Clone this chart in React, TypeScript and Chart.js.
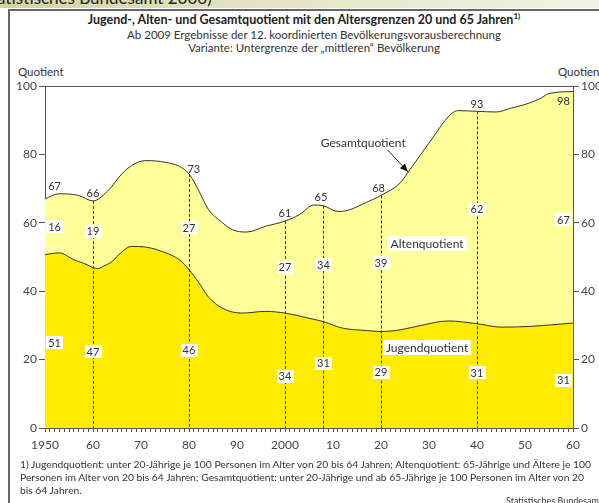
import React, { useEffect, useRef } from "react";
import { Chart, registerables } from "chart.js";
Chart.register(...registerables);

const FONT = 'Lato, "Open Sans", sans-serif';

// Gesamtquotient (upper curve)
const gesamtYears = [1950, 1953, 1957, 1960, 1963, 1966, 1968, 1971, 1975, 1978, 1980, 1982, 1984, 1987, 1989, 1992, 1996, 2000, 2003, 2006, 2008, 2011, 2013, 2017, 2020, 2024, 2026, 2031, 2034, 2036, 2040, 2044, 2047, 2050, 2053, 2055, 2060];
const gesamtValues = [67, 68.5, 68, 66.4, 69.2, 74.3, 76.7, 78.2, 77.7, 76.5, 74.3, 69.5, 64, 60, 58, 57.3, 59, 60.5, 62.4, 65.2, 65, 63.3, 63.6, 66, 68, 71.7, 75.5, 85.3, 91, 92.8, 92.6, 92.4, 93.5, 94.6, 96.2, 97.8, 98.4];

// Jugendquotient (lower curve)
const jugendYears = [1950, 1953, 1956, 1958, 1961, 1962, 1964, 1966, 1968, 1971, 1975, 1978, 1980, 1982, 1984, 1987, 1991, 1996, 2000, 2005, 2008, 2012, 2017, 2020, 2024, 2028, 2034, 2040, 2045, 2051, 2060];
const jugendValues = [50.7, 51.2, 49.2, 48.2, 46.6, 47.2, 48.7, 51.5, 53.1, 52.9, 51.3, 49.2, 46.3, 42.6, 38.4, 35, 33.6, 34.1, 33.6, 32.1, 31.1, 29.2, 28.5, 28.2, 28.7, 29.9, 31.3, 30.5, 29.5, 29.7, 30.7];

const tickLabels = ["1950", "60", "70", "80", "90", "2000", "10", "20", "30", "40", "50", "60"];
const yTicks = [0, 20, 40, 60, 80, 100];

const markerYears = [1950, 1960, 1980, 2000, 2008, 2020, 2040, 2060];
const gesamtLabels = [67, 66, 73, 61, 65, 68, 93, 98];
const altenLabels = [16, 19, 27, 27, 34, 39, 62, 67];
const jugendLabels = [51, 47, 46, 34, 31, 29, 31, 31];
const dashedYears = [1960, 1980, 2000, 2008, 2020, 2040];

const footnoteLines = [
  "1) Jugendquotient: unter 20-Jährige je 100 Personen im Alter von 20 bis 64 Jahren; Altenquotient: 65-Jährige und Ältere je 100",
  "Personen im Alter von 20 bis 64 Jahren; Gesamtquotient: unter 20-Jährige und ab 65-Jährige je 100 Personen im Alter von 20",
  "bis 64 Jahren.",
];

// annotation placement (layout only)
const boxXShift = [2, 0, 0, 0, 0, 0, 0, -2];
const gesamtXShift = [2, 0, 1, 0, -0.5, -0.5, 0, -2];
const gesamtLabelY = [70.7, 68.7, 75.5, 62.7, 67.5, 69.9, 94.6, 95.5];
const altenLabelY = [58.9, 57.5, 58.5, 47, 47.7, 48.4, 64, 60.9];
const jugendLabelY = [24.9, 22.3, 22.8, 15.2, 18.9, 16.3, 16.2, 14];

const COL_JUNG = "#FFEC00";
const COL_ALT = "#FFFF99";

const annotPlugin = {
  id: "annot",
  afterDatasetsDraw(chart: any) {
    const { ctx, chartArea } = chart;
    const x = chart.scales.x;
    const y = chart.scales.y;
    ctx.save();
    // top frame line
    ctx.strokeStyle = "#555";
    ctx.lineWidth = 1;
    ctx.beginPath();
    const ty = Math.round(chartArea.top) + 0.5;
    ctx.moveTo(chartArea.left, ty);
    ctx.lineTo(chartArea.right, ty);
    ctx.stroke();

    // dashed verticals
    const line = chart.getDatasetMeta(1).dataset;
    ctx.setLineDash([3, 2]);
    ctx.strokeStyle = "#333";
    ctx.beginPath();
    dashedYears.forEach((yr) => {
      const px = Math.round(x.getPixelForValue(yr)) + 0.5;
      const p = line.interpolate({ x: x.getPixelForValue(yr) }, "x");
      const top = p ? p.y : y.getPixelForValue(gesamtLabels[markerYears.indexOf(yr)]);
      ctx.moveTo(px, top);
      ctx.lineTo(px, y.getPixelForValue(0));
    });
    ctx.stroke();
    ctx.setLineDash([]);

    ctx.textAlign = "center";
    ctx.textBaseline = "middle";
    ctx.font = `11px ${FONT}`;
    const box = (txt: string, cx: number, cy: number, font: string, padX: number, h: number) => {
      ctx.font = font;
      const w = ctx.measureText(txt).width + padX * 2;
      ctx.fillStyle = "#fff";
      ctx.fillRect(Math.round(cx - w / 2), Math.round(cy - h / 2), Math.round(w), h);
      ctx.fillStyle = "#333";
      ctx.fillText(txt, cx, cy + 0.5);
    };
    markerYears.forEach((yr, i) => {
      const cxB = x.getPixelForValue(yr + boxXShift[i]);
      box(String(altenLabels[i]), cxB, y.getPixelForValue(altenLabelY[i]), `11px ${FONT}`, 2, 13);
      box(String(jugendLabels[i]), cxB, y.getPixelForValue(jugendLabelY[i]), `11px ${FONT}`, 2, 13);
      ctx.font = `11px ${FONT}`;
      ctx.fillStyle = "#333";
      ctx.fillText(String(gesamtLabels[i]), x.getPixelForValue(yr + gesamtXShift[i]), y.getPixelForValue(gesamtLabelY[i]));
    });

    box("Altenquotient", x.getPixelForValue(2029.6), y.getPixelForValue(53.9), `12px ${FONT}`, 3, 15);
    box("Jugendquotient", x.getPixelForValue(2029.6), y.getPixelForValue(23.4), `12px ${FONT}`, 3, 15);

    ctx.font = `12px ${FONT}`;
    ctx.fillStyle = "#333";
    ctx.fillText("Gesamtquotient", x.getPixelForValue(2016.3), y.getPixelForValue(83.2));
    // arrow
    const ax0 = x.getPixelForValue(2021.4), ay0 = y.getPixelForValue(81.3);
    const ax1 = x.getPixelForValue(2025.6), ay1 = y.getPixelForValue(74.9);
    ctx.strokeStyle = "#333";
    ctx.lineWidth = 1;
    ctx.beginPath();
    ctx.moveTo(ax0, ay0);
    ctx.lineTo(ax1, ay1);
    ctx.stroke();
    const ang = Math.atan2(ay1 - ay0, ax1 - ax0);
    const L = 8, W = 3.5;
    ctx.fillStyle = "#111";
    ctx.beginPath();
    ctx.moveTo(ax1, ay1);
    ctx.lineTo(ax1 - L * Math.cos(ang) + W * Math.sin(ang), ay1 - L * Math.sin(ang) - W * Math.cos(ang));
    ctx.lineTo(ax1 - L * Math.cos(ang) - W * Math.sin(ang), ay1 - L * Math.sin(ang) + W * Math.cos(ang));
    ctx.closePath();
    ctx.fill();
    ctx.restore();
  },
};

function ChartCanvas() {
  const ref = useRef<HTMLCanvasElement>(null);
  useEffect(() => {
    if (!ref.current) return;
    Chart.defaults.font.family = FONT;
    const yScale = (pos: "left" | "right", width: number) => ({
      type: "linear" as const,
      position: pos,
      min: 0,
      max: 100,
      afterBuildTicks: (s: any) => {
        s.ticks = yTicks.map((v) => ({ value: v }));
      },
      afterFit: (s: any) => {
        s.width = width;
      },
      ticks: { color: "#444", font: { size: 12 }, padding: 2 },
      grid: { drawOnChartArea: false, tickLength: 6, color: "#555" },
      border: { display: true, color: "#555", width: 1 },
    });
    const chart = new Chart(ref.current, {
      type: "line",
      data: {
        datasets: [
          {
            label: "Jugendquotient",
            data: jugendYears.map((yr, i) => ({ x: yr, y: jugendValues[i] })),
            borderColor: "#333",
            borderWidth: 1,
            backgroundColor: COL_JUNG,
            fill: "origin",
            pointRadius: 0,
            cubicInterpolationMode: "monotone",
          },
          {
            label: "Gesamtquotient",
            data: gesamtYears.map((yr, i) => ({ x: yr, y: gesamtValues[i] })),
            borderColor: "#333",
            borderWidth: 1,
            backgroundColor: COL_ALT,
            fill: "origin",
            pointRadius: 0,
            cubicInterpolationMode: "monotone",
          },
        ],
      },
      options: {
        responsive: false,
        animation: false,
        events: [],
        layout: { padding: { top: 86, left: 0, right: 0, bottom: 45 } },
        plugins: { legend: { display: false }, tooltip: { enabled: false }, title: { display: false } },
        scales: {
          x: {
            type: "linear",
            position: "bottom",
            min: 1950,
            max: 2060,
            afterBuildTicks: (s: any) => {
              const t = [];
              for (let v = 1950; v <= 2060; v++) t.push({ value: v });
              s.ticks = t;
            },
            afterFit: (s: any) => {
              s.height = 30;
            },
            ticks: {
              autoSkip: false,
              maxRotation: 0,
              color: "#444",
              font: { size: 12 },
              padding: 6,
              callback: (v: any) => ((v - 1950) % 10 === 0 ? tickLabels[(v - 1950) / 10] : ""),
            },
            grid: { drawOnChartArea: false, tickLength: 4, color: "#555" },
            border: { display: true, color: "#555", width: 1 },
          },
          y: yScale("left", 45),
          y2: yScale("right", 67),
        },
      },
      plugins: [annotPlugin],
    });
    return () => chart.destroy();
  }, []);
  return <canvas ref={ref} width={640} height={503} style={{ position: "absolute", left: 0, top: 0, width: 640, height: 503 }} />;
}

export default function App() {
  const txt = { fontFamily: FONT, color: "#333", position: "absolute" as const, whiteSpace: "nowrap" as const };
  return (
    <div style={{ position: "fixed", left: 0, top: 0, width: 599, height: 503, overflow: "hidden", background: "#fff" }}>
      <div style={{ position: "absolute", left: 0, top: 0, width: 599, height: 8, overflow: "hidden", background: "linear-gradient(to right, #d3d3a2, #e6e6c6 50%, #f2f2e6)" }}>
        <div style={{ ...txt, left: -3, top: -13, fontSize: 17, color: "#222" }}>atistisches Bundesamt 2006)</div>
      </div>
      <div style={{ position: "absolute", left: 8, top: 9, width: 700, height: 600, border: "2px solid #666", background: "#fff" }} />
      <div style={{ ...txt, left: 0, width: 608, top: 11, textAlign: "center", fontSize: 12.5, fontWeight: 700, color: "#222" }}>
        Jugend-, Alten- und Gesamtquotient mit den Altersgrenzen 20 und 65 Jahren<sup style={{ fontSize: 8 }}>1)</sup>
      </div>
      <div style={{ ...txt, left: 0, width: 628, top: 28, textAlign: "center", fontSize: 11.5, lineHeight: "13px" }}>
        Ab 2009 Ergebnisse der 12. koordinierten Bevölkerungsvorausberechnung
        <br />
        Variante: Untergrenze der „mittleren“ Bevölkerung
      </div>
      <div style={{ ...txt, left: 18, top: 65, fontSize: 11.5 }}>Quotient</div>
      <div style={{ ...txt, left: 558, top: 65, fontSize: 11.5 }}>Quotient</div>
      <ChartCanvas />
      <div style={{ ...txt, left: 20, top: 458, fontSize: 10.3, lineHeight: "13px" }}>
        {footnoteLines.map((l, i) => (
          <div key={i}>{l}</div>
        ))}
      </div>
      <div style={{ ...txt, left: 506, top: 495, fontSize: 9 }}>Statistisches Bundesamt</div>
    </div>
  );
}
